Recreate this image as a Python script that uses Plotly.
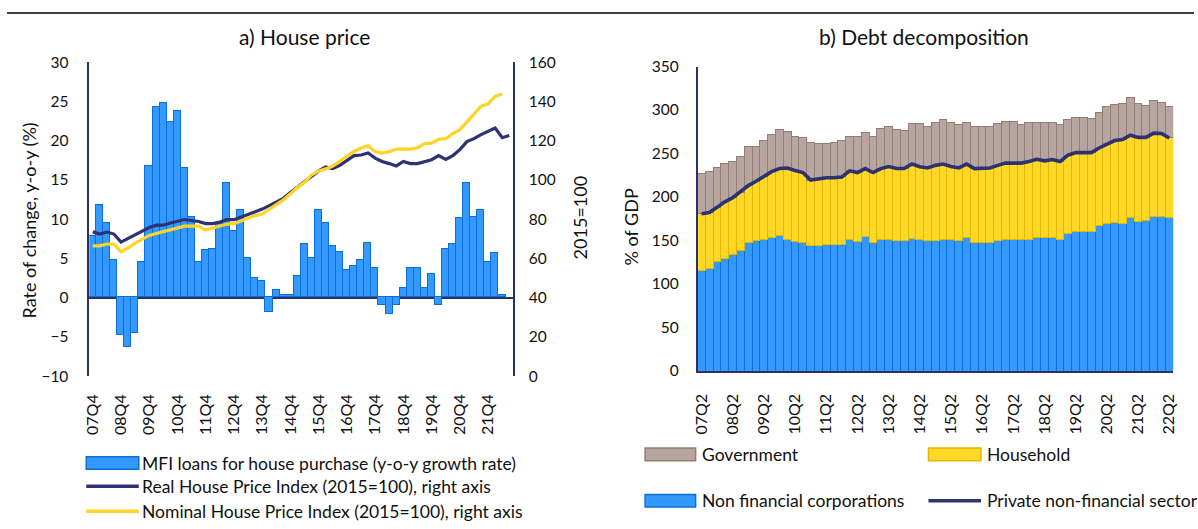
import plotly.graph_objects as go

W, H = 1198, 529

# ---------------- a) House price ----------------
quarters_a = [f"{(y % 100):02d}Q{q}" for y in range(2007, 2023) for q in range(1, 5)]
quarters_a = quarters_a[quarters_a.index("07Q4"):quarters_a.index("22Q3") + 1]
ticks_a = ["07Q4", "08Q4", "09Q4", "10Q4", "11Q4", "12Q4", "13Q4", "14Q4",
           "15Q4", "16Q4", "17Q4", "18Q4", "19Q4", "20Q4", "21Q4"]

mfi_loans = [7.8, 11.8, 9.5, 4.8, -4.8, -6.3, -4.5, 4.5, 16.8, 24.3,
             24.8, 22.3, 23.8, 16.5, 10.2, 4.5, 6.0, 6.2, 9.3, 14.6,
             8.5, 11.1, 5.0, 2.5, 2.1, -1.8, 1.0, 0.3, 0.3, 2.7,
             6.8, 5.0, 11.1, 9.5, 6.5, 5.8, 3.5, 4.0, 4.8, 7.0,
             3.8, -1.0, -2.1, -1.0, 1.2, 3.8, 3.8, 1.2, 3.0, -1.0,
             6.2, 6.8, 10.1, 14.6, 10.2, 11.1, 4.5, 5.7, 0.25, None]

real_hpi = [73.5, 72.4, 73.4, 72.4, 68.3, 70.2, 71.9, 73.9, 75.7, 76.9,
            76.9, 78.0, 78.8, 79.8, 79.3, 78.8, 77.7, 77.7, 78.5, 79.7,
            79.7, 81.0, 82.3, 83.5, 85.1, 86.9, 88.6, 90.6, 93.6, 96.4,
            98.8, 101.6, 104.6, 106.6, 105.8, 107.4, 109.9, 112.4, 112.7, 113.7,
            111.1, 109.4, 108.3, 107.1, 109.4, 108.3, 108.3, 109.4, 110.3, 112.4,
            110.4, 112.4, 115.4, 119.5, 121.0, 123.1, 124.8, 126.4, 121.5, 122.6]

nominal_hpi = [66.4, 66.4, 67.3, 67.3, 63.3, 65.3, 67.8, 69.8, 71.7, 72.7,
               73.6, 74.4, 75.2, 76.4, 76.4, 76.4, 74.4, 75.5, 76.4, 77.5,
               77.7, 79.0, 80.7, 81.8, 82.6, 85.1, 87.6, 89.8, 92.9, 96.2,
               98.8, 102.5, 104.6, 105.6, 107.1, 109.6, 112.1, 114.5, 116.2, 117.4,
               114.4, 113.7, 114.4, 115.7, 115.7, 115.7, 116.4, 118.5, 118.7, 120.7,
               121.0, 123.6, 125.6, 129.7, 133.6, 137.5, 138.8, 142.6, 143.8, None]

# ---------------- b) Debt decomposition ----------------
quarters_b = [f"{(y % 100):02d}Q{q}" for y in range(2007, 2023) for q in range(1, 5)]
quarters_b = quarters_b[quarters_b.index("07Q2"):quarters_b.index("22Q2") + 1]
ticks_b = ["07Q2", "08Q2", "09Q2", "10Q2", "11Q2", "12Q2", "13Q2", "14Q2",
           "15Q2", "16Q2", "17Q2", "18Q2", "19Q2", "20Q2", "21Q2", "22Q2"]

non_fin_corp = [115.5, 117.4, 126.0, 129.0, 134.0, 138.0, 148.0, 150.0, 151.0, 153.7,
                155.6, 151.0, 149.0, 147.4, 143.7, 143.7, 145.0, 145.0, 145.0, 151.0,
                149.0, 154.4, 147.4, 151.0, 151.0, 149.3, 149.3, 152.6, 151.1, 149.3,
                149.3, 151.1, 151.1, 149.3, 153.7, 147.4, 147.4, 147.4, 149.3, 151.1,
                151.1, 151.1, 151.1, 153.0, 153.0, 153.0, 151.1, 158.1, 160.4, 160.4,
                160.4, 167.4, 169.6, 171.1, 169.6, 175.9, 171.5, 173.3, 177.8, 177.8,
                175.9]

household = [65.2, 64.6, 62.0, 65.4, 65.0, 67.5, 65.0, 68.0, 72.0, 75.3,
             77.0, 82.3, 81.4, 80.6, 75.6, 77.3, 77.0, 77.0, 78.0, 79.0,
             79.0, 78.2, 80.6, 81.6, 84.0, 83.3, 83.3, 85.2, 83.7, 84.0,
             87.0, 86.7, 83.9, 84.0, 84.1, 85.2, 85.2, 85.9, 87.0, 87.8,
             87.8, 87.8, 89.6, 90.3, 88.5, 90.0, 89.6, 89.9, 90.6, 90.6,
             90.6, 88.9, 91.4, 93.7, 96.4, 95.1, 97.0, 95.2, 95.5, 95.2,
             91.9]

government = [46.3, 47.0, 46.0, 44.6, 42.0, 41.5, 45.5, 40.5, 42.0, 43.0,
              44.4, 41.7, 39.6, 40.0, 43.7, 40.0, 39.0, 41.0, 42.0, 40.0,
              42.0, 41.9, 41.6, 46.4, 46.0, 44.4, 44.1, 46.2, 49.2, 48.2,
              49.7, 50.7, 51.0, 50.0, 48.2, 48.9, 48.9, 48.2, 47.7, 47.4,
              47.4, 44.4, 45.3, 42.7, 44.5, 43.0, 42.6, 40.5, 40.0, 40.0,
              39.0, 41.1, 42.7, 41.5, 42.0, 43.8, 39.5, 37.1, 37.7, 36.0,
              35.9]

private_non_fin = [180.7, 182.0, 188.0, 194.4, 199.0, 205.5, 213.0, 218.0, 223.0, 229.0,
                   232.6, 233.3, 230.4, 228.0, 219.3, 221.0, 222.0, 222.0, 223.0, 230.0,
                   228.0, 232.6, 228.0, 232.6, 235.0, 232.6, 232.6, 237.8, 234.8, 233.3,
                   236.3, 237.8, 235.0, 233.3, 237.8, 232.6, 232.6, 233.3, 236.3, 238.9,
                   238.9, 238.9, 240.7, 243.3, 241.5, 243.0, 240.7, 248.0, 251.0, 251.0,
                   251.0, 256.3, 261.0, 264.8, 266.0, 271.0, 268.5, 268.5, 273.3, 273.0,
                   267.8]

# ---------------- styling ----------------
FONT = "Lato"
TXT = "#111111"
NAVY = "#2E3272"
AXIS = "#2B2F6B"
BLUE = "#3399FF"
BLUE_EDGE = "#0A70D8"
YELLOW = "#FFD426"
HH_FILL = "#FFD726"
HH_EDGE = "#E2B800"
GOV_FILL = "#B6A69F"
GOV_EDGE = "#957D72"

YTICK_SIZE = 15.5
XTICK_SIZE = 16
TITLE_SIZE = 21
AXTITLE_SIZE = 18
LEGEND_SIZE = 17.5


def px(x):
    return x / W


def py(y):
    return 1 - y / H


fig = go.Figure()

# left panel
fig.add_trace(go.Bar(x=quarters_a, y=mfi_loans, xaxis="x", yaxis="y",
                     marker=dict(color=BLUE, line=dict(color=BLUE_EDGE, width=1)),
                     name="MFI loans for house purchase (y-o-y growth rate)"))
fig.add_trace(go.Scatter(x=quarters_a, y=real_hpi, xaxis="x", yaxis="y2", mode="lines",
                         line=dict(color=NAVY, width=3.2),
                         name="Real House Price Index (2015=100), right axis"))
fig.add_trace(go.Scatter(x=quarters_a, y=nominal_hpi, xaxis="x", yaxis="y2", mode="lines",
                         line=dict(color=YELLOW, width=3.2),
                         name="Nominal House Price Index (2015=100), right axis"))

# right panel
fig.add_trace(go.Bar(x=quarters_b, y=non_fin_corp, xaxis="x3", yaxis="y3",
                     marker=dict(color=BLUE, line=dict(color=BLUE_EDGE, width=1)),
                     name="Non financial corporations"))
fig.add_trace(go.Bar(x=quarters_b, y=household, xaxis="x3", yaxis="y3",
                     marker=dict(color=HH_FILL, line=dict(color=HH_EDGE, width=1)),
                     name="Household"))
fig.add_trace(go.Bar(x=quarters_b, y=government, xaxis="x3", yaxis="y3",
                     marker=dict(color=GOV_FILL, line=dict(color=GOV_EDGE, width=1)),
                     name="Government"))
fig.add_trace(go.Scatter(x=quarters_b, y=private_non_fin, xaxis="x3", yaxis="y3", mode="lines",
                         line=dict(color=NAVY, width=3.6),
                         name="Private non-financial sector"))

ytickfont = dict(family=FONT, size=YTICK_SIZE, color=TXT)
xtickfont = dict(family=FONT, size=XTICK_SIZE, color=TXT)

fig.update_layout(
    width=W, height=H,
    margin=dict(l=0, r=0, t=0, b=0),
    paper_bgcolor="white", plot_bgcolor="white",
    showlegend=False,
    barmode="stack", bargap=0,
    font=dict(family=FONT, color=TXT),
    xaxis=dict(domain=[px(83), px(510.5)], anchor="y", type="category",
               categoryorder="array", categoryarray=quarters_a,
               tickmode="array", tickvals=ticks_a, ticktext=ticks_a,
               tickangle=-90, tickfont=xtickfont, ticks="", showline=False,
               showgrid=False, zeroline=False, ticklabelstandoff=14),
    yaxis=dict(domain=[py(379), py(54)], anchor="x", range=[-10, 30], dtick=5,
               tickfont=ytickfont, ticks="", showgrid=False,
               showline=True, linecolor=AXIS, linewidth=1.5,
               zeroline=True, zerolinecolor=AXIS, zerolinewidth=1.5,
               ticklabelstandoff=16),
    yaxis2=dict(overlaying="y", anchor="x", side="right", range=[0, 160], dtick=20,
                tickfont=ytickfont, ticks="", showgrid=False, zeroline=False,
                showline=True, linecolor=AXIS, linewidth=1.5,
                ticklabelstandoff=11),
    xaxis3=dict(domain=[px(697), px(1177)], anchor="y3", type="category",
                categoryorder="array", categoryarray=quarters_b,
                tickmode="array", tickvals=ticks_b, ticktext=ticks_b,
                tickangle=-90, tickfont=xtickfont, ticks="",
                showline=True, linecolor=AXIS, linewidth=1.5,
                showgrid=False, zeroline=False, ticklabelstandoff=15),
    yaxis3=dict(domain=[py(373.5), py(58.5)], anchor="x3", range=[0, 350], dtick=50,
                tickfont=ytickfont, ticks="", showgrid=False, zeroline=False,
                showline=True, linecolor=AXIS, linewidth=1.5,
                ticklabelstandoff=14),
)

annotations = [
    dict(text="a) House price", x=px(300), y=py(27), font=dict(size=TITLE_SIZE)),
    dict(text="b) Debt decomposition", x=px(926), y=py(27), font=dict(size=TITLE_SIZE)),
    dict(text="Rate of change, y-o-y (%)", x=px(22), y=py(218), textangle=-90,
         font=dict(size=AXTITLE_SIZE)),
    dict(text="2015=100", x=px(578), y=py(215), textangle=-90, font=dict(size=AXTITLE_SIZE)),
    dict(text="% of GDP", x=px(630), y=py(225), textangle=-90, font=dict(size=AXTITLE_SIZE)),
]
for a in annotations:
    a.update(xref="paper", yref="paper", showarrow=False, xanchor="center", yanchor="middle")

shapes = [
    # rule across the top of the figure
    dict(type="line", xref="paper", yref="paper", x0=0, x1=1, y0=py(3), y1=py(3),
         line=dict(color="black", width=1.5)),
]

# legend entries: (kind, fill, edge, x0, x1, ycenter, text, text_x)
legend_items = [
    ("rect", BLUE, BLUE_EDGE, 80, 133, 469, "MFI loans for house purchase (y-o-y growth rate)", 134),
    ("line", NAVY, None, 80, 133, 493, "Real House Price Index (2015=100), right axis", 134),
    ("line", YELLOW, None, 80, 133, 519, "Nominal House Price Index (2015=100), right axis", 134),
    ("rect", GOV_FILL, GOV_EDGE, 644, 695, 460, "Government", 699),
    ("rect", HH_FILL, HH_EDGE, 930, 983, 460, "Household", 987),
    ("rect", BLUE, BLUE_EDGE, 644, 695, 508, "Non financial corporations", 699),
    ("line", NAVY, None, 930, 983, 508, "Private non-financial sector", 987),
]
for kind, fill, edge, x0, x1, yc, text, tx in legend_items:
    if kind == "rect":
        shapes.append(dict(type="rect", xref="paper", yref="paper",
                           x0=px(x0), x1=px(x1), y0=py(yc + 6.5), y1=py(yc - 6.5),
                           fillcolor=fill, line=dict(color=edge, width=1.5)))
    else:
        shapes.append(dict(type="line", xref="paper", yref="paper",
                           x0=px(x0), x1=px(x1), y0=py(yc), y1=py(yc),
                           line=dict(color=fill, width=3.5)))
    annotations.append(dict(text=text, xref="paper", yref="paper", x=px(tx), y=py(yc),
                            xanchor="left", yanchor="middle", showarrow=False,
                            font=dict(size=LEGEND_SIZE)))

fig.update_layout(annotations=annotations, shapes=shapes)

fig.write_html("out.html")
